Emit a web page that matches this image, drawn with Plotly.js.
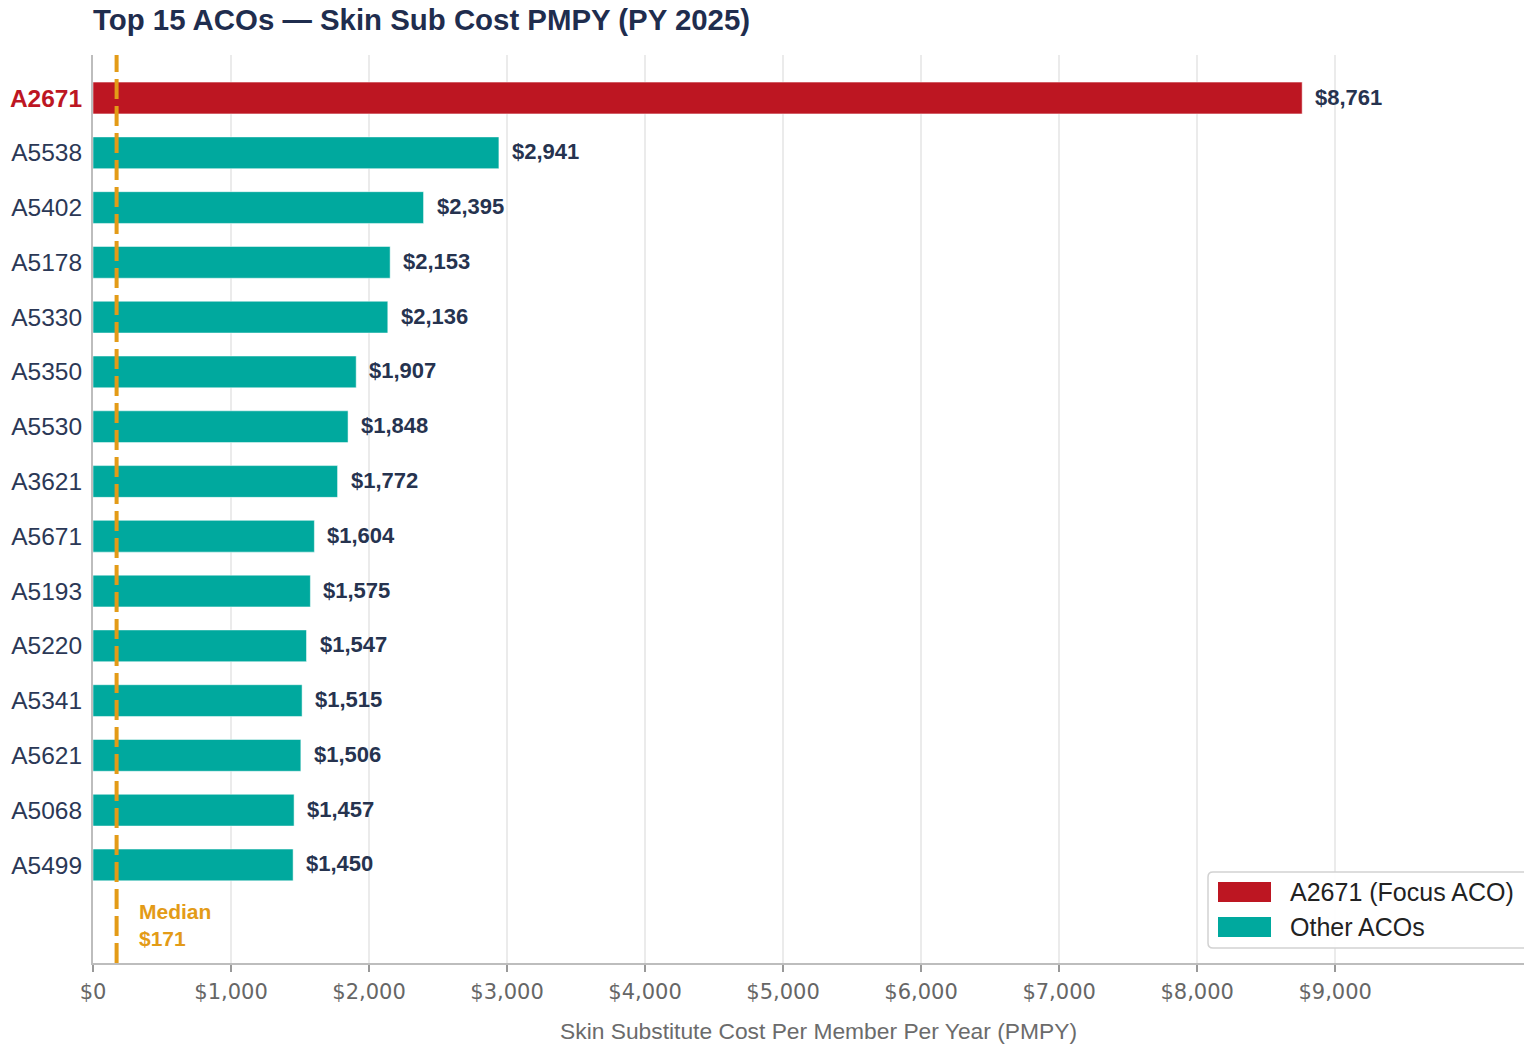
<!DOCTYPE html>
<html>
<head>
<meta charset="utf-8">
<script src="https://cdn.plot.ly/plotly-3.0.1.min.js"></script>
<style>
  html, body { margin: 0; padding: 0; overflow: hidden; background: #ffffff; }
  #chart { width: 1600px; height: 1045px; }
</style>
</head>
<body>
<div id="chart"></div>
<script>
// ---- Data ----
const acos = ["A2671","A5538","A5402","A5178","A5330","A5350","A5530","A3621","A5671","A5193","A5220","A5341","A5621","A5068","A5499"];
const pmpy = [8761, 2941, 2395, 2153, 2136, 1907, 1848, 1772, 1604, 1575, 1547, 1515, 1506, 1457, 1450];
const focusAco = "A2671";
const medianValue = 171;
const xTickVals = [0, 1000, 2000, 3000, 4000, 5000, 6000, 7000, 8000, 9000];
const xTickText = ["$0", "$1,000", "$2,000", "$3,000", "$4,000", "$5,000", "$6,000", "$7,000", "$8,000", "$9,000"];
const legendLabels = ["A2671 (Focus ACO)", "Other ACOs"];

// ---- Style ----
const RED = "#BD1622";
const TEAL = "#00A99E";
const ORANGE = "#E39B17";
const NAVY = "#1F2D4E";
const LABEL = "#26334F";
const SANS = "Liberation Sans, Arial, sans-serif";

const idx = acos.map((_, i) => i);
const fmt = v => "$" + v.toLocaleString("en-US");

const focusX = [], focusY = [], otherX = [], otherY = [];
acos.forEach((a, i) => {
  if (a === focusAco) { focusX.push(pmpy[i]); focusY.push(i); }
  else { otherX.push(pmpy[i]); otherY.push(i); }
});

const traces = [
  { type: "bar", orientation: "h", name: legendLabels[0], x: focusX, y: focusY, width: 0.58,
    marker: { color: RED, line: { color: "#ffffff", width: 0.5 } }, hoverinfo: "x+y", showlegend: false },
  { type: "bar", orientation: "h", name: legendLabels[1], x: otherX, y: otherY, width: 0.58,
    marker: { color: TEAL, line: { color: "#ffffff", width: 0.5 } }, hoverinfo: "x+y", showlegend: false }
];

const tickText = acos.map(a => a === focusAco
  ? '<span style="color:' + RED + '"><b>' + a + '</b></span>' : a);

const annotations = acos.map((a, i) => ({
  x: pmpy[i], y: i, xref: "x", yref: "y", text: "<b>" + fmt(pmpy[i]) + "</b>",
  showarrow: false, xanchor: "left", yanchor: "middle", xshift: 11, yshift: 1,
  font: { family: SANS, size: 22, color: LABEL }
}));

annotations.push({
  x: medianValue, y: 15.09, xref: "x", yref: "y",
  text: "<b>Median<br>" + fmt(medianValue) + "</b>", align: "left",
  showarrow: false, xanchor: "left", yanchor: "middle", xshift: 20,
  font: { family: SANS, size: 21, color: ORANGE }
});

// custom legend (paper coords)
const plotL = 93, plotR = 1544, plotT = 55, plotB = 963;
const px = p => (p - plotL) / (plotR - plotL);
const py = p => (plotB - p) / (plotB - plotT);

function roundRect(x0, y0, x1, y1, r) {
  const rx = r / (plotR - plotL), ry = r / (plotB - plotT);
  const X0 = px(x0), X1 = px(x1), Yt = py(y0), Yb = py(y1);
  return "M" + (X0 + rx) + "," + Yt +
    " L" + (X1 - rx) + "," + Yt + " Q" + X1 + "," + Yt + " " + X1 + "," + (Yt - ry) +
    " L" + X1 + "," + (Yb + ry) + " Q" + X1 + "," + Yb + " " + (X1 - rx) + "," + Yb +
    " L" + (X0 + rx) + "," + Yb + " Q" + X0 + "," + Yb + " " + X0 + "," + (Yb + ry) +
    " L" + X0 + "," + (Yt - ry) + " Q" + X0 + "," + Yt + " " + (X0 + rx) + "," + Yt + " Z";
}

const shapes = [
  { type: "line", xref: "x", yref: "paper", x0: medianValue, x1: medianValue, y0: 0, y1: 1,
    line: { color: ORANGE, width: 4, dash: "20px,7px" }, layer: "above" },
  { type: "path", xref: "paper", yref: "paper", path: roundRect(1208, 872, 1540, 948, 5),
    fillcolor: "rgba(255,255,255,0.95)", line: { color: "#d2d2d2", width: 1.5 }, layer: "above" },
  { type: "rect", xref: "paper", yref: "paper", x0: px(1218), x1: px(1271), y0: py(902), y1: py(882),
    fillcolor: RED, line: { width: 0 }, layer: "above" },
  { type: "rect", xref: "paper", yref: "paper", x0: px(1218), x1: px(1271), y0: py(937), y1: py(917),
    fillcolor: TEAL, line: { width: 0 }, layer: "above" }
];

annotations.push(
  { xref: "paper", yref: "paper", x: px(1288), y: py(892), text: legendLabels[0], showarrow: false,
    xanchor: "left", yanchor: "middle", font: { family: SANS, size: 25, color: "#222" } },
  { xref: "paper", yref: "paper", x: px(1288), y: py(927), text: legendLabels[1], showarrow: false,
    xanchor: "left", yanchor: "middle", font: { family: SANS, size: 25, color: "#222" } }
);

const layout = {
  width: 1600, height: 1045,
  margin: { l: plotL, r: 1600 - plotR, t: plotT, b: 1045 - plotB },
  paper_bgcolor: "#ffffff", plot_bgcolor: "#ffffff",
  barmode: "overlay",
  showlegend: false,
  title: {
    text: "<b>Top 15 ACOs — Skin Sub Cost PMPY (PY 2025)</b>",
    x: 0, xref: "paper", xanchor: "left",
    y: 1 - 20 / 1045, yref: "container", yanchor: "middle",
    font: { family: SANS, size: 29.4, color: NAVY }
  },
  xaxis: {
    range: [0, 8761 * 1.2],
    tickmode: "array", tickvals: xTickVals, ticktext: xTickText,
    showgrid: true, gridcolor: "#ebebeb", gridwidth: 1.5,
    zeroline: false, showline: true, linecolor: "#bdbdbd", linewidth: 2,
    ticks: "outside", ticklen: 7, tickwidth: 1.5, tickcolor: "#999", ticklabelstandoff: 2,
    tickfont: { family: "DejaVu Sans, sans-serif", size: 21, color: "#666" },
    title: { text: "Skin Substitute Cost Per Member Per Year (PMPY)", standoff: 20,
      font: { family: SANS, size: 22.8, color: "#6b6b6b" } }
  },
  yaxis: {
    range: [15.79, -0.785],
    tickvals: idx, ticktext: tickText,
    showgrid: false, zeroline: false, showline: true, linecolor: "#bdbdbd", linewidth: 2,
    ticks: "", ticklabelstandoff: 4,
    tickfont: { family: SANS, size: 24.5, color: "#2B3856" }
  },
  shapes: shapes,
  annotations: annotations
};

Plotly.newPlot("chart", traces, layout, { displayModeBar: false, staticPlot: true });
</script>
</body>
</html>
